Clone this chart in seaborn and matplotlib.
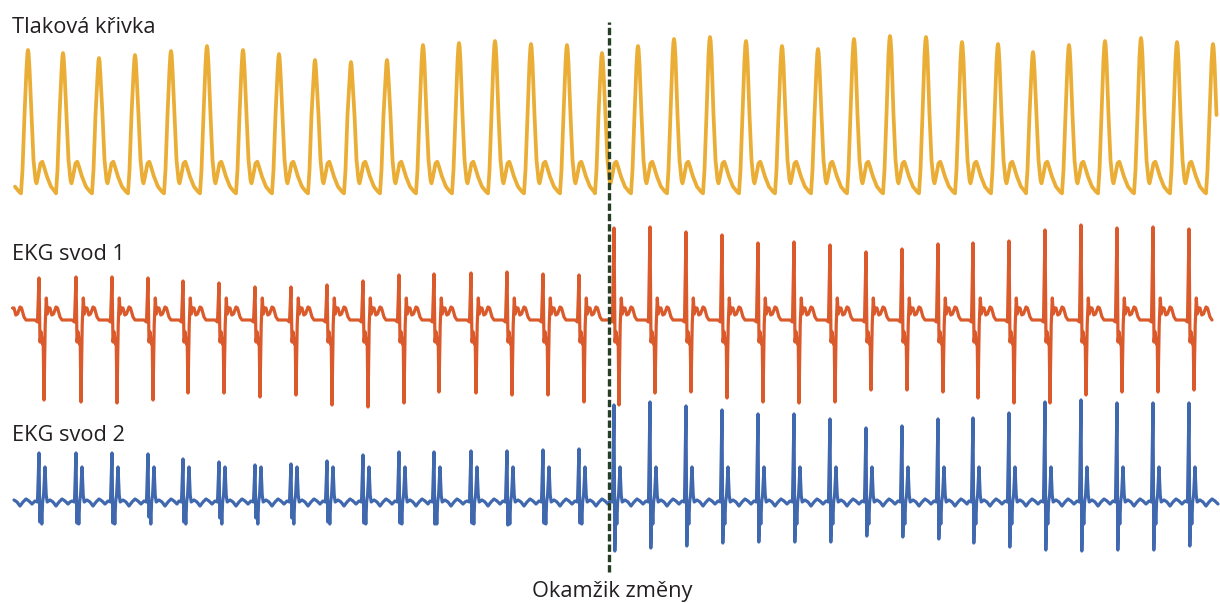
import numpy as np
import pandas as pd
import matplotlib
matplotlib.use('Agg')
import matplotlib.pyplot as plt
import seaborn as sns

sns.set_style('white')
plt.rcParams['font.family'] = ['Open Sans', 'DejaVu Sans']

# beat times (s) and peak values
press_t = [-0.16, 0.56, 1.26, 1.98, 2.70, 3.42, 4.14, 4.86, 5.58, 6.30, 7.02, 7.74,
           8.46, 9.18, 9.90, 10.62, 11.34, 12.04,
           12.76, 13.48, 14.20, 14.92, 15.64, 16.36, 17.08, 17.80, 18.52, 19.24,
           19.96, 20.66, 21.38, 22.10, 22.82, 23.54, 24.26]
press_top = [150.0, 150.0, 148.2, 145.2, 147.0, 149.4, 152.4, 150.0, 147.6, 144.0, 142.8, 144.0,
             153.0, 154.2, 155.4, 153.6, 153.0, 148.2,
             152.4, 156.6, 157.8, 155.4, 152.4, 150.6, 156.6, 158.4, 157.8, 154.8,
             153.6, 148.8, 153.0, 155.4, 157.2, 154.8, 153.6]

ecg_t = [0.06, 0.78, 1.52, 2.24, 2.96, 3.66, 4.38, 5.10, 5.82, 6.54, 7.26, 7.98,
         8.68, 9.42, 10.14, 10.86, 11.58,
         12.28, 13.00, 13.72, 14.44, 15.16, 15.88, 16.60, 17.32, 18.04, 18.76,
         19.46, 20.18, 20.90, 21.62, 22.34, 23.06, 23.78]
ecg1_r = [0.42, 0.42, 0.43, 0.43, 0.42, 0.39, 0.37, 0.33, 0.33, 0.35, 0.39, 0.45,
          0.46, 0.47, 0.48, 0.46, 0.45,
          0.92, 0.93, 0.88, 0.85, 0.77, 0.78, 0.75, 0.68, 0.71, 0.76,
          0.77, 0.79, 0.90, 0.95, 0.92, 0.93, 0.91]
ecg1_s = [-0.80, -0.80, -0.82, -0.83, -0.80, -0.73, -0.73, -0.77, -0.75, -0.85, -0.87, -0.83,
          -0.72, -0.73, -0.75, -0.75, -0.82,
          -0.85, -0.73, -0.72, -0.78, -0.82, -0.83, -0.82, -0.70, -0.70, -0.72,
          -0.78, -0.83, -0.83, -0.75, -0.72, -0.72, -0.70]
ecg2_r = [0.47, 0.47, 0.47, 0.47, 0.46, 0.41, 0.38, 0.35, 0.36, 0.39, 0.45, 0.48,
          0.48, 0.49, 0.49, 0.50, 0.51,
          0.95, 0.98, 0.94, 0.90, 0.86, 0.86, 0.81, 0.72, 0.74, 0.81,
          0.82, 0.87, 0.98, 1.00, 0.97, 0.97, 0.97]
ecg2_s = [-0.22, -0.22, -0.23, -0.23, -0.17, -0.22, -0.18, -0.18, -0.18, -0.22, -0.23, -0.23,
          -0.24, -0.23, -0.25, -0.23, -0.23,
          -0.51, -0.48, -0.46, -0.43, -0.42, -0.42, -0.42, -0.36, -0.37, -0.39,
          -0.43, -0.47, -0.50, -0.51, -0.50, -0.50, -0.46]

change_t = 12.18
t_start, t_end = 0.24, 24.36


def pressure_beat(top):
    dt = [-0.14, -0.11, -0.07, -0.03, -0.012, 0, 0.012, 0.03, 0.07, 0.11, 0.15, 0.17,
          0.20, 0.25, 0.286, 0.32, 0.38, 0.46, 0.54]
    lv = [64, 78, 111, top - 11, top - 2, top, top - 2, top - 11, 111, 84, 72, 70,
          74, 82, 83, 80, 74, 68, 65]
    return dt, lv


def lead1_beat(r, s):
    dt = [-0.08, -0.03, 0, 0.02, 0.044, 0.068, 0.084, 0.10, 0.124, 0.146, 0.166,
          0.19, 0.22, 0.256, 0.29, 0.34, 0.37, 0.42, 0.46, 0.62]
    lv = [0.0, -0.02, r, -0.22, -0.12, -0.24, -0.20, s, -0.05, 0.22, 0.06,
          0.12, 0.12, 0.05, 0.06, 0.13, 0.12, 0.03, 0.0, 0.0]
    return dt, lv


def lead2_beat(r, s):
    dt = [-0.08, -0.03, 0, 0.016, 0.04, 0.056, 0.072, 0.092, 0.12, 0.144, 0.164,
          0.22, 0.28, 0.34, 0.40, 0.46, 0.52, 0.58, 0.62]
    lv = [-0.01, -0.02, r, s, -0.05, -0.24, -0.02, 0.05, 0.33, 0.05, -0.02,
          0.0, -0.02, -0.06, -0.02, 0.01, -0.01, -0.04, -0.02]
    return dt, lv


def build(times, shapes):
    xs, ys = [], []
    for i, (t0, (dt, lv)) in enumerate(zip(times, shapes)):
        stop = times[i + 1] + dt[0] if i + 1 < len(times) else np.inf
        for d, v in zip(dt, lv):
            if t0 + d < stop:
                xs.append(t0 + d)
                ys.append(v)
    df = pd.DataFrame({'t': xs, 'v': ys})
    return df[(df.t >= t_start) & (df.t <= t_end)]


press = build(press_t, [pressure_beat(p) for p in press_top])
lead1 = build(ecg_t, [lead1_beat(r, s) for r, s in zip(ecg1_r, ecg1_s)])
lead2 = build(ecg_t, [lead2_beat(r, s) for r, s in zip(ecg2_r, ecg2_s)])

W, H = 1220, 603
fig = plt.figure(figsize=(W / 100, H / 100), dpi=100)


def band(top_px, bot_px):
    ax = fig.add_axes([0, 1 - bot_px / H, 1, (bot_px - top_px) / H])
    ax.set_facecolor('none')
    ax.set_xlim(0, W * 0.02)
    ax.axis('off')
    return ax


ax_p = band(20, 210)
ax_1 = band(215, 420)
ax_2 = band(390, 565)
ax_o = band(0, H)

sns.lineplot(data=press, x='t', y='v', ax=ax_p, sort=False, estimator=None,
             color='#EAAE36', linewidth=2.7)
ax_p.set_ylim(54, 168)
sns.lineplot(data=lead1, x='t', y='v', ax=ax_1, sort=False, estimator=None,
             color='#DA5A2C', linewidth=2.3)
ax_1.set_ylim(-1.0, 1.05)
sns.lineplot(data=lead2, x='t', y='v', ax=ax_2, sort=False, estimator=None,
             color='#4068AE', linewidth=2.3)
ax_2.set_ylim(-0.65, 1.10)
for ax in (ax_p, ax_1, ax_2):
    ax.axis('off')

ax_o.set_ylim(0, 1)
ax_o.axvline(change_t, ymin=1 - 572 / H, ymax=1 - 22 / H, color='#243F24',
             linewidth=2.4, linestyle=(0, (2.2, 0.9)))

fs = 15.7
fig.text(12 / W, 1 - 33 / H, 'Tlaková křivka', fontsize=fs, color='#231F20', va='baseline')
fig.text(12 / W, 1 - 260 / H, 'EKG svod 1', fontsize=fs, color='#231F20', va='baseline')
fig.text(12 / W, 1 - 441 / H, 'EKG svod 2', fontsize=fs, color='#231F20', va='baseline')
fig.text(612 / W, 1 - 597 / H, 'Okamžik změny', fontsize=fs, color='#231F20',
         va='baseline', ha='center')

fig.savefig('out.png', dpi=100)
